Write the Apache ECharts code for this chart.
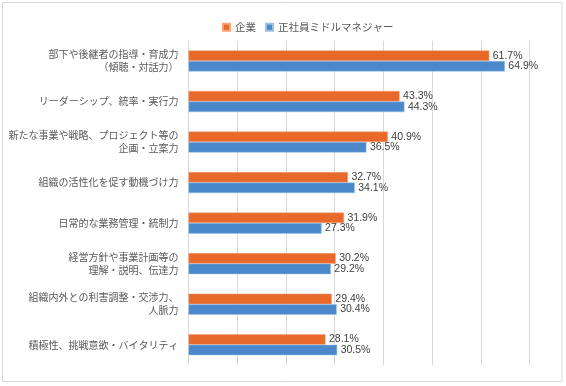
<!DOCTYPE html>
<html><head><meta charset="utf-8">
<script src="https://cdn.jsdelivr.net/npm/echarts@6/dist/echarts.min.js"></script>
<style>html,body{margin:0;padding:0;background:#fff}#c{width:566px;height:386px}</style>
</head><body><div id="c"></div>
<script>
const categories = [
  '部下や後継者の指導・育成力\n（傾聴・対話力）',
  'リーダーシップ、統率・実行力',
  '新たな事業や戦略、プロジェクト等の\n企画・立案力',
  '組織の活性化を促す動機づけ力',
  '日常的な業務管理・統制力',
  '経営方針や事業計画等の\n理解・説明、伝達力',
  '組織内外との利害調整・交渉力、\n人脈力',
  '積極性、挑戦意欲・バイタリティ'
];
const seriesNames = ['企業', '正社員ミドルマネジャー'];
const companyValues = [61.7, 43.3, 40.9, 32.7, 31.9, 30.2, 29.4, 28.1];
const managerValues = [64.9, 44.3, 36.5, 34.1, 27.3, 29.2, 30.4, 30.5];
const axisMin = 0, axisMax = 70, axisInterval = 10;

const chart = echarts.init(document.getElementById('c'), null, {renderer: 'canvas'});
const lbl = {
  show: true, position: 'right', distance: 3.5, color: '#404040',
  fontSize: 10.5, fontFamily: 'Liberation Sans, Arial, sans-serif',
  formatter: p => p.value.toFixed(1) + '%'
};
chart.setOption({
  animation: false,
  graphic: [{
    type: 'rect', shape: {x: 2.5, y: 2.5, width: 559.5, height: 379},
    style: {fill: 'none', stroke: '#d9d9d9', lineWidth: 1}, silent: true
  }],
  legend: {
    top: 17, left: 217, itemWidth: 7, itemHeight: 7, itemGap: 9,
    icon: 'rect',
    textStyle: {color: '#595959', fontSize: 10.5, fontFamily: 'Noto Sans CJK JP'},
    data: seriesNames
  },
  grid: {left: 188.5, right: 36.3, top: 40.7, bottom: 21, containLabel: false},
  xAxis: {
    type: 'value', min: axisMin, max: axisMax, interval: axisInterval,
    axisLabel: {show: false}, axisLine: {show: false}, axisTick: {show: false},
    splitLine: {show: true, lineStyle: {color: '#d9d9d9', width: 1}}
  },
  yAxis: {
    type: 'category', inverse: true, data: categories,
    axisLine: {show: false}, axisTick: {show: false},
    axisLabel: {color: '#595959', fontSize: 10, margin: 10, lineHeight: 13,
      fontFamily: 'Noto Sans CJK JP', align: 'right'}
  },
  series: [
    {name: seriesNames[0], type: 'bar', data: companyValues, barGap: '0%', barCategoryGap: '48%',
     itemStyle: {color: '#E8692A', borderColor: '#F2A47A', borderWidth: 0.5}, label: lbl},
    {name: seriesNames[1], type: 'bar', data: managerValues, barGap: '0%', barCategoryGap: '48%',
     itemStyle: {color: '#4A88CB', borderColor: '#9CC0E6', borderWidth: 0.5}, label: lbl}
  ]
});
</script></body></html>
